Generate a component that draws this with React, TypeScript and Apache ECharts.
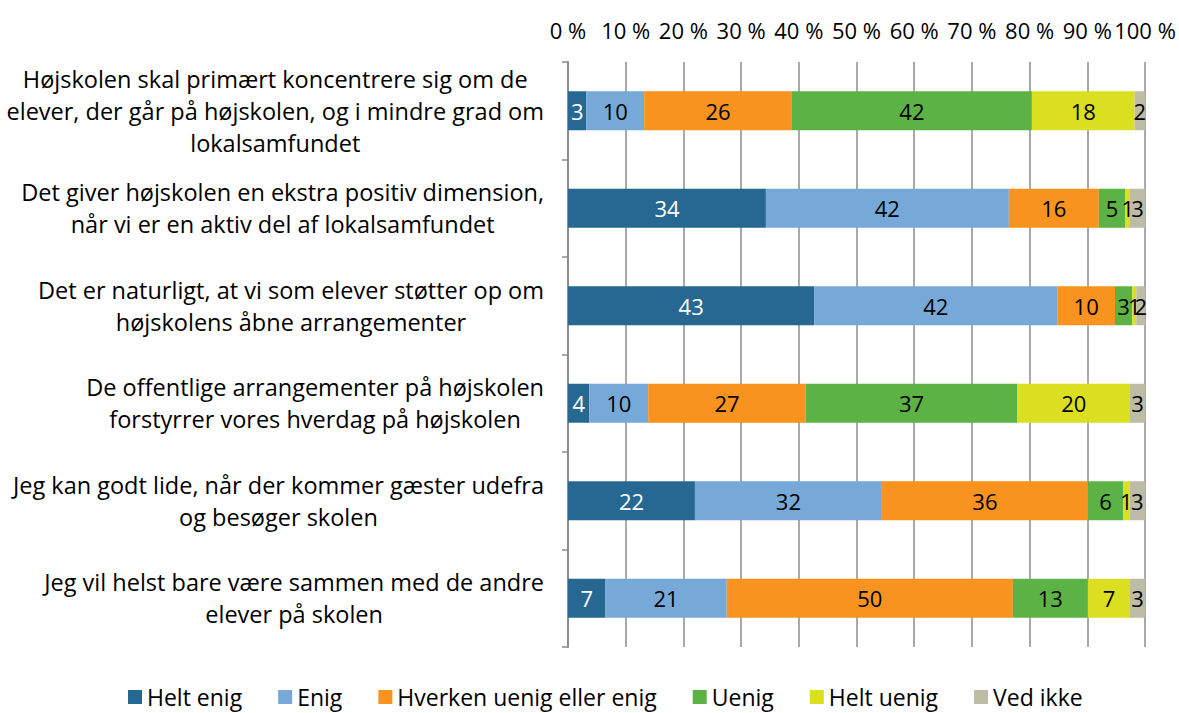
import React, { useEffect, useRef } from 'react';
import * as echarts from 'echarts';

const categories = [
  'Højskolen skal primært koncentrere sig om de\nelever, der går på højskolen, og i mindre grad om\nlokalsamfundet',
  'Det giver højskolen en ekstra positiv dimension,\nnår vi er en aktiv del af lokalsamfundet',
  'Det er naturligt, at vi som elever støtter op om\nhøjskolens åbne arrangementer',
  'De offentlige arrangementer på højskolen\nforstyrrer vores hverdag på højskolen',
  'Jeg kan godt lide, når der kommer gæster udefra\nog besøger skolen',
  'Jeg vil helst bare være sammen med de andre\nelever på skolen',
];

const seriesNames = ['Helt enig', 'Enig', 'Hverken uenig eller enig', 'Uenig', 'Helt uenig', 'Ved ikke'];
const seriesColors = ['#276892', '#76A9D8', '#F7931E', '#5DB246', '#DADF20', '#BDBCA6'];
const labelColors = ['#ffffff', '#000000', '#000000', '#000000', '#000000', '#000000'];

const heltEnig = [3.2, 34.3, 42.7, 3.7, 22.0, 6.5];
const enig = [10.0, 42.1, 42.1, 10.2, 32.4, 21.0];
const hverken = [25.6, 15.6, 10.0, 27.3, 35.7, 49.6];
const uenig = [41.6, 4.6, 3.0, 36.7, 6.1, 13.0];
const heltUenig = [17.8, 0.8, 0.7, 19.5, 1.1, 7.3];
const vedIkke = [1.8, 2.6, 1.5, 2.6, 2.7, 2.6];

const seriesValues = [heltEnig, enig, hverken, uenig, heltUenig, vedIkke];

const xMin = 0;
const xMax = 100;
const xInterval = 10;

const FONT = '"Open Sans"';
const FS = 22;
const CAT_FS = 23.5;
const LEG_FS = 23;

export default function App() {
  const ref = useRef<HTMLDivElement>(null);

  useEffect(() => {
    if (!ref.current) return;
    const chart = echarts.init(ref.current, null, { renderer: 'svg' });
    const option: any = {
      animation: false,
      backgroundColor: '#ffffff',
      textStyle: { fontFamily: FONT },
      grid: {
        left: 568,
        right: 34,
        top: 62,
        bottom: 66,
        containLabel: false,
        outerBoundsMode: 'none',
      },
      xAxis: {
        type: 'value',
        position: 'top',
        min: xMin,
        max: xMax,
        interval: xInterval,
        axisLine: { show: false },
        axisTick: { show: false },
        axisLabel: {
          formatter: (v: number) => v + ' %',
          fontFamily: FONT,
          fontSize: 22,
          color: '#000',
          margin: 21,
        },
        splitLine: { show: true, lineStyle: { color: '#8c8c8c', width: 1.5 } },
      },
      yAxis: {
        type: 'category',
        data: categories,
        inverse: true,
        axisLine: { show: true, lineStyle: { color: '#8c8c8c', width: 2 } },
        axisTick: { show: true, length: 6, lineStyle: { color: '#8c8c8c', width: 1.5 } },
        axisLabel: {
          margin: 24,
          align: 'right',
          fontFamily: FONT,
          fontSize: CAT_FS,
          color: '#000',
          lineHeight: 32,
          formatter: (v: string) =>
            v
              .split('\n')
              .map((l) => '{c|' + l + '}')
              .join('\n'),
          rich: {
            c: { align: 'center', fontFamily: FONT, fontSize: CAT_FS, lineHeight: 32, color: '#000' },
          },
        },
      },
      legend: {
        data: seriesNames,
        left: 128,
        top: 683,
        icon: 'rect',
        itemWidth: 14,
        itemHeight: 14,
        itemGap: 36,
        padding: 0,
        textStyle: { fontFamily: FONT, fontSize: LEG_FS, color: '#000', lineHeight: 28 },
      },
      series: seriesNames.map((name, i) => ({
        name,
        type: 'bar',
        stack: 'total',
        barWidth: '40%',
        itemStyle: { color: seriesColors[i] },
        label: {
          show: true,
          position: 'inside',
          formatter: (p: any) => String(Math.round(p.value)),
          fontFamily: FONT,
          fontSize: FS,
          color: labelColors[i],
        },
        data: seriesValues[i],
      })),
    };
    chart.setOption(option);
    return () => chart.dispose();
  }, []);

  return (
    <div
      ref={ref}
      style={{ position: 'fixed', left: 0, top: 0, width: 1179, height: 713 }}
    />
  );
}
